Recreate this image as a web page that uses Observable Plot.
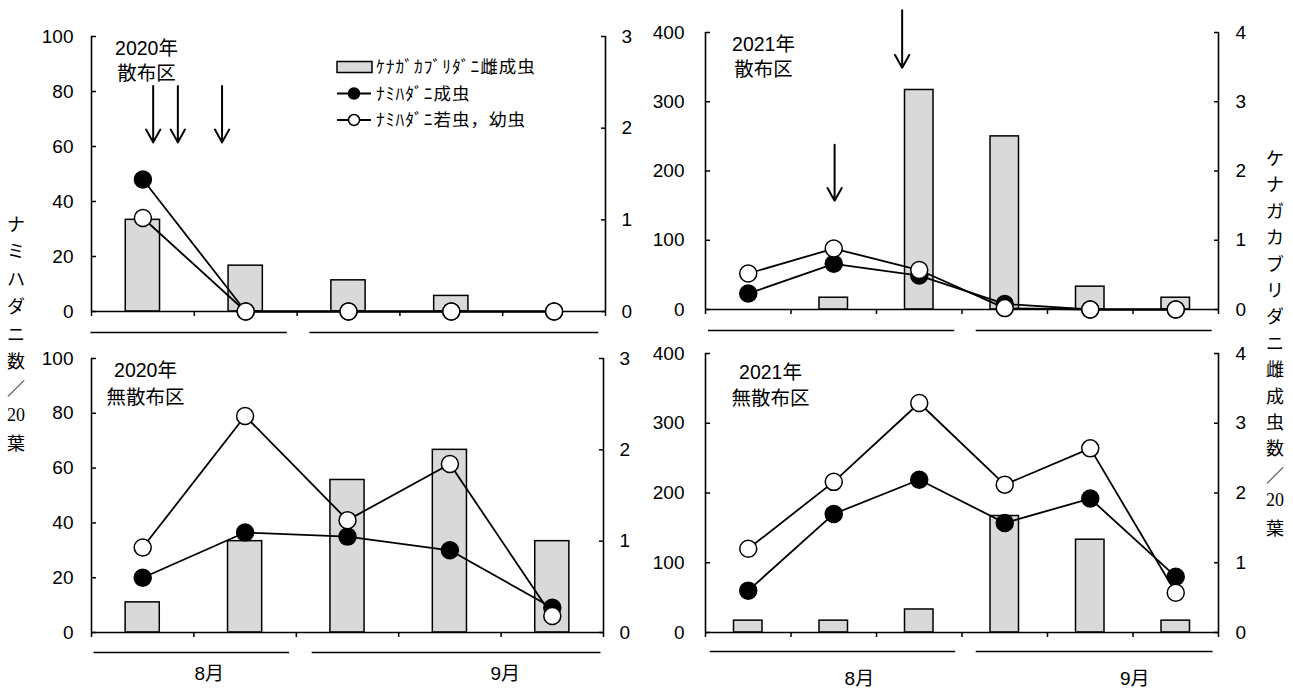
<!DOCTYPE html>
<html>
<head>
<meta charset="utf-8">
<script src="https://cdn.jsdelivr.net/npm/d3@7"></script>
<script src="https://cdn.jsdelivr.net/npm/@observablehq/plot@0.6"></script>
<style>
  body { margin: 0; background: #fff; }
  #wrap { position: relative; width: 1293px; height: 688px; overflow: hidden; background: #fff;
    font-family: "Liberation Sans", "Noto Sans CJK JP", sans-serif; color: #000; }
  .ch { position: absolute; width: 30px; text-align: center; font-size: 18px; line-height: 20px;
    font-family: "Noto Sans CJK JP", sans-serif; }
  .ch.num { font-family: "Liberation Serif", "DejaVu Serif", serif; }
</style>
</head>
<body>
<div id="wrap"></div>
<script>
// ---------------- data ----------------
// right axis: ケナガカブリダニ雌成虫数／20葉 ; left axis: ナミハダニ数／20葉
const predator2020Spray   = [1.0, 0.5, 0.34, 0.17, 0];
const adult2020Spray      = [48, 0, 0, 0, 0];
const nymph2020Spray      = [34, 0, 0, 0, 0];

const predator2021Spray   = [0, 0.17, 3.17, 2.5, 0.33, 0.17];
const adult2021Spray      = [23, 66, 49, 8, 0, 0];
const nymph2021Spray      = [52, 88, 57, 2, 0, 0];

const predator2020Control = [0.33, 1.0, 1.67, 2.0, 1.0];
const adult2020Control    = [20, 36.5, 35, 30, 9];
const nymph2020Control    = [31, 79, 41, 61.5, 6];

const predator2021Control = [0.17, 0.17, 0.33, 1.67, 1.33, 0.17];
const adult2021Control    = [60, 170, 219, 157, 192, 80];
const nymph2021Control    = [120, 216, 329, 212, 264, 57];

const leftTicks2020  = [0, 20, 40, 60, 80, 100];
const leftTicks2021  = [0, 100, 200, 300, 400];

const legendLabels = ["ｹﾅｶﾞｶﾌﾞﾘﾀﾞﾆ雌成虫", "ﾅﾐﾊﾀﾞﾆ成虫", "ﾅﾐﾊﾀﾞﾆ若虫，幼虫"];
const monthNames = ["8月", "9月"];
const leftTitle  = ["ナ","ミ","ハ","ダ","ニ","数","／","20","葉"];
const rightTitle = ["ケ","ナ","ガ","カ","ブ","リ","ダ","ニ","雌","成","虫","数","／","20","葉"];

// spraying dates (arrows), in sample-position units
const arrows2020 = [{x: 1.10, y1: 82, y2: 61.5}, {x: 1.34, y1: 82, y2: 61.5}, {x: 1.77, y1: 82, y2: 61.5}];
const arrows2021 = [{x: 2.80, y1: 432, y2: 349}, {x: 2.01, y1: 238, y2: 157}];

// month brackets under the x axis (sample-position units)
const monthSpans2020Top = [[0.49, 2.40], [2.62, 5.43]];
const monthSpans2021Top = [[0.53, 3.41], [3.66, 6.42]];
const monthSpans2020Bot = [[0.52, 2.43], [2.65, 5.47]];
const monthSpans2021Bot = [[0.55, 3.42], [3.66, 6.43]];
const monthLabelX2020 = [1.65, 4.54];
const monthLabelX2021 = [2.30, 5.52];

// ---------------- drawing ----------------
const FONT = '"Liberation Sans", "Noto Sans CJK JP", sans-serif';
const wrap = document.getElementById("wrap");
function place(node, left, top) {
  node.style.position = "absolute";
  node.style.left = left + "px";
  node.style.top = top + "px";
  wrap.appendChild(node);
}

function makePanel(o) {
  const n = o.pred.length;
  const xs = d3.range(1, n + 1);
  const k = o.yMax / o.rMax;
  const bars = xs.map((x, i) => ({x1: x - 1/6, x2: x + 1/6, y1: 0, y2: o.pred[i] * k}));
  const ad = xs.map((x, i) => ({x, y: o.adult[i]}));
  const ny = xs.map((x, i) => ({x, y: o.nymph[i]}));
  const rTicks = d3.range(0, o.rMax + 1).map(v => v * k);
  const spans = o.spans.map(([a, b]) => ({a, b}));
  const marks = [
    Plot.rect(bars, {x1: "x1", x2: "x2", y1: "y1", y2: "y2", fill: "#d9d9d9", stroke: "black", strokeWidth: 1.5}),
    Plot.ruleY([0], {strokeWidth: 1.6}),
    Plot.ruleX([0.5, n + 0.5], {y1: 0, y2: o.yMax, strokeWidth: 1.6}),
    Plot.axisX({ticks: d3.range(n + 1).map(i => i + 0.5), tickSize: 5, strokeWidth: 1.5, fill: "none", label: null}),
    Plot.axisY({anchor: "left", ticks: o.yTicks, tickSize: -5, tickPadding: 5 + o.gapL, strokeWidth: 1.5, label: null, fontSize: 19}),
    Plot.axisY({anchor: "right", ticks: rTicks, tickFormat: d => String(Math.round(d / k)), tickSize: -5, tickPadding: 5 + o.gapR, strokeWidth: 1.5, label: null, fontSize: 19}),
    Plot.line(ad, {x: "x", y: "y", stroke: "black", strokeWidth: 1.8}),
    Plot.dot(ad, {x: "x", y: "y", r: 8.5, fill: "black", stroke: "black", strokeWidth: 1.5}),
    Plot.line(ny, {x: "x", y: "y", stroke: "black", strokeWidth: 1.8}),
    Plot.dot(ny, {x: "x", y: "y", r: 8.5, fill: "white", stroke: "black", strokeWidth: 1.5}),
    Plot.link(spans, {x1: "a", x2: "b", y1: () => 0, y2: () => 0, dy: o.spanDy, stroke: "black", strokeWidth: 1.6}),
    Plot.text([o.title1], {frameAnchor: "top-left", dx: o.titleDx, dy: o.titleDy1, text: d => d, textAnchor: "middle", fontSize: 19.5}),
    Plot.text([o.title2], {frameAnchor: "top-left", dx: o.titleDx, dy: o.titleDy2, text: d => d, textAnchor: "middle", fontSize: 19.5})
  ];
  if (o.arrows) {
    marks.push(Plot.arrow(o.arrows, {x1: "x", x2: "x", y1: "y1", y2: "y2", stroke: "black", strokeWidth: 2, headLength: 11, headAngle: 58}));
  }
  if (o.labelX) {
    marks.push(Plot.text(monthNames.map((m, i) => ({m, x: o.labelX[i]})),
      {x: "x", y: () => 0, dy: o.labelDy, text: "m", textAnchor: "middle", fontSize: 19}));
  }
  const svg = Plot.plot({
    width: o.width, height: o.height,
    marginLeft: o.mL, marginRight: o.mR, marginTop: o.mT, marginBottom: o.mB,
    x: {domain: [0.5, n + 0.5]},
    y: {domain: [0, o.yMax]},
    style: {background: "transparent", overflow: "visible", fontSize: "19px", fontFamily: FONT, color: "black"},
    marks
  });
  place(svg, o.left, o.top);
}

makePanel({left: 0, top: 0, width: 660, height: 345, mL: 91, mR: 55, mT: 36, mB: 34,
  yMax: 100, rMax: 3, yTicks: leftTicks2020, gapL: 18, gapR: 16,
  pred: predator2020Spray, adult: adult2020Spray, nymph: nymph2020Spray,
  title1: "2020年", title2: "散布区", titleDx: 55, titleDy1: 5, titleDy2: 30,
  arrows: arrows2020, spans: monthSpans2020Top, spanDy: 21});

makePanel({left: 640, top: 0, width: 640, height: 345, mL: 65, mR: 62, mT: 32, mB: 36,
  yMax: 400, rMax: 4, yTicks: leftTicks2021, gapL: 21, gapR: 17,
  pred: predator2021Spray, adult: adult2021Spray, nymph: nymph2021Spray,
  title1: "2021年", title2: "散布区", titleDx: 58, titleDy1: 5, titleDy2: 30,
  arrows: arrows2021, spans: monthSpans2021Top, spanDy: 21});

makePanel({left: 0, top: 345, width: 660, height: 343, mL: 91, mR: 57, mT: 13, mB: 56,
  yMax: 100, rMax: 3, yTicks: leftTicks2020, gapL: 18, gapR: 16,
  pred: predator2020Control, adult: adult2020Control, nymph: nymph2020Control,
  title1: "2020年", title2: "無散布区", titleDx: 54, titleDy1: 5, titleDy2: 32,
  spans: monthSpans2020Bot, spanDy: 20, labelX: monthLabelX2020, labelDy: 41});

makePanel({left: 640, top: 345, width: 640, height: 343, mL: 65, mR: 62, mT: 8, mB: 56,
  yMax: 400, rMax: 4, yTicks: leftTicks2021, gapL: 21, gapR: 17,
  pred: predator2021Control, adult: adult2021Control, nymph: nymph2021Control,
  title1: "2021年", title2: "無散布区", titleDx: 65, titleDy1: 12, titleDy2: 38,
  spans: monthSpans2021Bot, spanDy: 19, labelX: monthLabelX2021, labelDy: 46});

// legend (top-left panel)
(function legend() {
  const svg = d3.create("svg").attr("width", 260).attr("height", 80)
    .style("overflow", "visible").style("font-family", FONT);
  const g = svg.append("g");
  const rows = [27, 53.5, 80];
  g.append("rect").attr("x", 1).attr("y", rows[0] - 5.5).attr("width", 35).attr("height", 11)
    .attr("fill", "#d9d9d9").attr("stroke", "black").attr("stroke-width", 1.5);
  [1, 2].forEach(i => {
    g.append("line").attr("x1", 1).attr("x2", 35).attr("y1", rows[i]).attr("y2", rows[i])
      .attr("stroke", "black").attr("stroke-width", 1.8);
    g.append("circle").attr("cx", 18).attr("cy", rows[i]).attr("r", 5.5)
      .attr("fill", i === 1 ? "black" : "white").attr("stroke", "black").attr("stroke-width", 1.5);
  });
  legendLabels.forEach((t, i) => {
    g.append("text").attr("x", 40).attr("y", rows[i]).attr("dy", "0.36em")
      .attr("font-size", 17.5).attr("letter-spacing", "1px")
      .attr("font-family", '"Noto Sans CJK JP", sans-serif').text(t);
  });
  place(svg.node(), 336, 40);
})();

// vertical axis titles
function vTitle(chars, cx, firstCy, step) {
  chars.forEach((c, i) => {
    const d = document.createElement("div");
    d.className = "ch" + (/^\d+$/.test(c) ? " num" : "");
    d.textContent = c;
    place(d, cx - 15, firstCy + i * step - 10);
  });
}
vTitle(leftTitle, 16, 223, 27.4);
vTitle(rightTitle, 1275, 157, 26.4);
</script>
</body>
</html>
